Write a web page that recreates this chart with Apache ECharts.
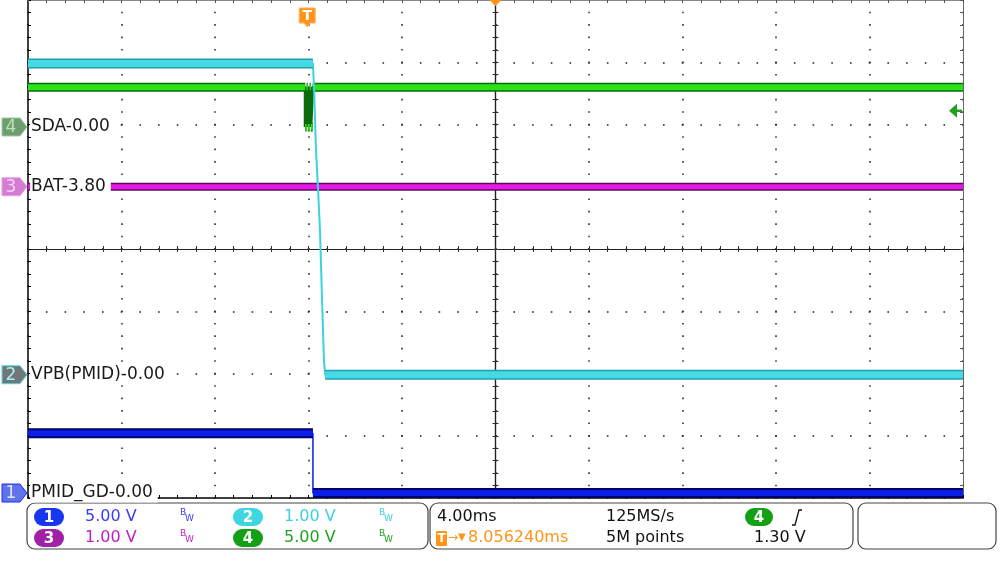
<!DOCTYPE html>
<html><head><meta charset="utf-8">
<script src="https://cdn.jsdelivr.net/npm/echarts@6/dist/echarts.min.js"></script>
<style>html,body{margin:0;padding:0;background:#fff}#c{width:1000px;height:579px}</style>
</head><body><div id="c"></div>
<script>
// ---- horizontal: ms from left edge of screen, 4 ms/div, 10 div ----
const timeDivMs = 4;
const timeSpanMs = 40;
const triggerMs = 11.944;          // trigger point (8.056240 ms before centre)
const vertDivs = 8;

// ---- channel settings (1..4) ----
const channelLabels = ['PMID_GD-0.00', 'VPB(PMID)-0.00', 'BAT-3.80', 'SDA-0.00'];
const channelScales = [5, 1, 1, 5];          // V/div
const channelOffsets = [0, 0, 3.8, 0];       // V
const channelPositions = [0.08, 1.98, 5.0, 5.96]; // div from bottom
const triggerLevelV = 1.30;                  // ch4

// ---- traces ----
const ch1Times = [0, 12.19, 12.19, 40];
const ch1Volts = [4.8, 4.8, 0, 0];
const ch2Times = [0, 12.19, 12.24, 12.32, 12.41, 12.49, 12.58, 12.66, 12.71, 40];
const ch2Volts = [5.0, 5.0, 4.58, 3.61, 2.97, 2.33, 1.20, 0.24, 0, 0];
const ch3Times = [0, 40];
const ch3Volts = [3.8, 3.8];
const ch4Times = [0, 11.86, 11.86, 11.92, 11.92, 11.97, 11.97, 12.05, 12.05, 12.10, 12.10, 12.18, 12.18, 40];
const ch4Volts = [3.2, 3.2, 0, 0, 3.2, 3.2, 0, 0, 3.2, 3.2, 0, 0, 3.2, 3.2];

// ---- status panel text ----
const chScaleTexts = ['5.00 V', '1.00 V', '1.00 V', '5.00 V'];
const timebaseText = '4.00ms';
const sampleRateText = '125MS/s';
const memoryText = '5M points';
const trigDelayText = '8.056240ms';
const trigLevelText = '1.30 V';

const traceStyles = [
  {outer: '#00006e', inner: '#0a1ee6', thin: '#0a1ee6', ow: 10, iw: 6, tw: 1.5},
  {outer: '#1f9fae', inner: '#46dae6', thin: '#3cd2e0', ow: 10, iw: 7, tw: 2},
  {outer: '#5c0a5c', inner: '#e61ae6', thin: '#e61ae6', ow: 8, iw: 5, tw: 1.5},
  {outer: '#0b6a0b', inner: '#2ee21a', thin: '#0b6a0b', ow: 9, iw: 6, tw: 3}
];
const allTimes = [ch1Times, ch2Times, ch3Times, ch4Times];
const allVolts = [ch1Volts, ch2Volts, ch3Volts, ch4Volts];

function toDiv(ch, v) { return channelPositions[ch] + (v - channelOffsets[ch]) / channelScales[ch]; }

const series = [];
const drawOrder = [0, 2, 3, 1];
drawOrder.forEach(ch => {
  const t = allTimes[ch], v = allVolts[ch], st = traceStyles[ch];
  const pts = t.map((x, i) => [x, toDiv(ch, v[i])]);
  series.push({type: 'line', data: pts, symbol: 'none', silent: true, animation: false,
    lineStyle: {color: st.thin, width: st.tw}, z: 2});
  // noise band on the flat parts
  for (let i = 0; i < pts.length - 1; i++) {
    if (v[i] === v[i + 1] && t[i + 1] > t[i]) {
      const seg = [pts[i], pts[i + 1]];
      series.push({type: 'line', data: seg, symbol: 'none', silent: true, animation: false,
        lineStyle: {color: st.outer, width: st.ow, cap: 'butt'}, z: 2});
      series.push({type: 'line', data: seg, symbol: 'none', silent: true, animation: false,
        lineStyle: {color: st.inner, width: st.iw, cap: 'butt'}, z: 2});
    }
  }
});

const dotX = {type: [1.6, 10.85], dashOffset: 0.8, color: '#222', width: 1.5};
const dotY = {type: [1.6, 17.1], dashOffset: 0.8, color: '#222', width: 1.5};
const hide = {show: false};
function xAx(extra) {
  return Object.assign({type: 'value', min: 0, max: timeSpanMs, interval: timeDivMs,
    axisLabel: hide, splitLine: hide}, extra);
}
function yAx(extra) {
  return Object.assign({type: 'value', min: 0, max: vertDivs, interval: 1,
    axisLabel: hide, splitLine: hide}, extra);
}
const tick = (inside, color) => ({show: true, inside: inside, length: 3, lineStyle: {color: color, width: 1}});
const minor = (color) => ({show: true, splitNumber: 5, length: 3, lineStyle: {color: color, width: 1}});

const chart = echarts.init(document.getElementById('c'), null, {renderer: 'canvas'});
chart.setOption({
  animation: false,
  backgroundColor: '#fff',
  grid: {left: 28, top: 0, width: 935, height: 498, containLabel: false},
  xAxis: [
    xAx({position: 'bottom', axisLine: {onZero: false, lineStyle: {color: '#000', width: 1.5}},
      axisTick: tick(true, '#000'), minorTick: minor('#000'), splitLine: {show: true, lineStyle: dotX}}),
    xAx({position: 'top', axisLine: {onZero: false, lineStyle: {color: '#888', width: 1}},
      axisTick: tick(true, '#555'), minorTick: minor('#555')}),
    xAx({position: 'bottom', offset: -249, axisLine: {onZero: false, lineStyle: {color: '#222', width: 1.2}},
      axisTick: tick(true, '#333'), minorTick: minor('#333')}),
    xAx({position: 'bottom', offset: -249, axisLine: {onZero: false, lineStyle: {color: '#222', width: 1.2}},
      axisTick: tick(false, '#333'), minorTick: minor('#333')})
  ],
  yAxis: [
    yAx({position: 'left', axisLine: {show: true, onZero: false, lineStyle: {color: '#000', width: 1.5}},
      axisTick: tick(true, '#000'), minorTick: minor('#000'), splitLine: {show: true, lineStyle: dotY}}),
    yAx({position: 'right', axisLine: {show: true, onZero: false, lineStyle: {color: '#666', width: 1}},
      axisTick: tick(true, '#555'), minorTick: minor('#555')}),
    yAx({position: 'left', offset: -467.5, axisLine: {show: true, onZero: false, lineStyle: {color: '#222', width: 1.2}},
      axisTick: tick(true, '#333'), minorTick: minor('#333')}),
    yAx({position: 'left', offset: -467.5, axisLine: {show: true, onZero: false, lineStyle: {color: '#222', width: 1.2}},
      axisTick: tick(false, '#333'), minorTick: minor('#333')})
  ],
  series: series
});

// ---- overlays positioned through the chart's own scales ----
const px = (t, d) => chart.convertToPixel({gridIndex: 0}, [t, d]);
const FONT = '"DejaVu Sans", sans-serif';
const g = [];
const markerStyles = [
  {fill: '#5f73ea', stroke: '#1a32ff', text: '#dfe4ff'},
  {fill: '#6f7777', stroke: '#52d6e0', text: '#a8f0f4'},
  {fill: '#d47cd4', stroke: '#e6a0e6', text: '#f6d2f6'},
  {fill: '#6f9d6f', stroke: '#98cf98', text: '#b9e4b9'}
];
for (let ch = 0; ch < 4; ch++) {
  const y = px(0, channelPositions[ch])[1];
  const ms = markerStyles[ch];
  g.push({type: 'polygon', z: 100, shape: {points: [[2, y - 9], [20, y - 9], [27, y], [20, y + 9], [2, y + 9]]},
    style: {fill: ms.fill, stroke: ms.stroke, lineWidth: 1}});
  g.push({type: 'text', z: 101, x: 11, y: y + 1, style: {text: String(ch + 1), fill: ms.text,
    font: '17px ' + FONT, align: 'center', verticalAlign: 'middle'}});
  g.push({type: 'text', z: 101, x: 30, y: y, style: {text: channelLabels[ch], fill: '#1a1a1a',
    font: '17px ' + FONT, align: 'left', verticalAlign: 'middle', backgroundColor: '#fff', padding: [1, 5, 1, 1]}});
}
// trigger position marker
const tp = px(triggerMs, vertDivs);
g.push({type: 'polygon', z: 100, shape: {points: [[tp[0] - 8, 8], [tp[0] + 8, 8], [tp[0] + 8, 23], [tp[0] + 3, 23], [tp[0], 27], [tp[0] - 3, 23], [tp[0] - 8, 23]]},
  style: {fill: '#ff9418', stroke: '#ffb060', lineWidth: 1}});
g.push({type: 'text', z: 101, x: tp[0], y: 16, style: {text: 'T', fill: '#fff', font: 'bold 14px ' + FONT, align: 'center', verticalAlign: 'middle'}});
// delay marker (centre)
const cp = px(timeSpanMs / 2, vertDivs);
g.push({type: 'polygon', z: 100, shape: {points: [[cp[0] - 6, 0], [cp[0] + 6, 0], [cp[0], 6]]}, style: {fill: '#ff9418'}});
// trigger level arrow (ch4)
const tl = px(timeSpanMs, toDiv(3, triggerLevelV));
g.push({type: 'polygon', z: 100, shape: {points: [[tl[0] - 14, tl[1]], [tl[0] - 6, tl[1] - 7], [tl[0] - 6, tl[1] + 7]]}, style: {fill: '#22a022'}});
g.push({type: 'line', z: 100, shape: {x1: tl[0] - 7, y1: tl[1], x2: tl[0] - 1, y2: tl[1]}, style: {stroke: '#22a022', lineWidth: 2.5}});

// ---- status panel ----
const boxStyle = {fill: 'none', stroke: '#444', lineWidth: 1.2};
g.push({type: 'rect', z: 100, shape: {x: 27, y: 503, width: 401, height: 46, r: 8}, style: boxStyle});
g.push({type: 'rect', z: 100, shape: {x: 430, y: 503, width: 423, height: 46, r: 8}, style: boxStyle});
g.push({type: 'rect', z: 100, shape: {x: 858, y: 503, width: 138, height: 46, r: 8}, style: boxStyle});
const pillFill = ['#1736f0', '#3fd6e0', '#a020a8', '#14a014'];
const textFill = ['#3a3af8', '#3fd0e0', '#c020c0', '#22a022'];
const slotX = [34, 233, 34, 233];
const slotY = [517, 517, 538, 538];
for (let ch = 0; ch < 4; ch++) {
  const x0 = slotX[ch], yc = slotY[ch];
  g.push({type: 'rect', z: 100, shape: {x: x0, y: yc - 9, width: 30, height: 18, r: 9}, style: {fill: pillFill[ch]}});
  g.push({type: 'text', z: 101, x: x0 + 15, y: yc + 1, style: {text: String(ch + 1), fill: '#fff', font: 'bold 15px ' + FONT, align: 'center', verticalAlign: 'middle'}});
  g.push({type: 'text', z: 101, x: x0 + 51, y: yc, style: {text: chScaleTexts[ch], fill: textFill[ch], font: '16px ' + FONT, align: 'left', verticalAlign: 'middle'}});
  g.push({type: 'text', z: 101, x: x0 + 146, y: yc - 4, style: {text: 'B', fill: textFill[ch], font: '9px ' + FONT, align: 'left', verticalAlign: 'middle'}});
  g.push({type: 'text', z: 101, x: x0 + 151, y: yc + 2, style: {text: 'W', fill: textFill[ch], font: '9px ' + FONT, align: 'left', verticalAlign: 'middle'}});
}
const T = (x, y, s, fill, size) => g.push({type: 'text', z: 101, x: x, y: y, style: {text: s, fill: fill, font: (size || 16) + 'px ' + FONT, align: 'left', verticalAlign: 'middle'}});
T(437, 517, timebaseText, '#111');
T(606, 517, sampleRateText, '#111');
T(606, 538, memoryText, '#111');
T(754, 538, trigLevelText, '#111');
g.push({type: 'rect', z: 100, shape: {x: 745, y: 508, width: 28, height: 18, r: 9}, style: {fill: '#14a014'}});
g.push({type: 'text', z: 101, x: 759, y: 518, style: {text: '4', fill: '#fff', font: 'bold 15px ' + FONT, align: 'center', verticalAlign: 'middle'}});
g.push({type: 'polyline', z: 101, shape: {points: [[792, 525], [795, 525], [799, 510], [802, 510]]}, style: {stroke: '#111', lineWidth: 1.3, fill: 'none'}});
g.push({type: 'rect', z: 100, shape: {x: 436, y: 531, width: 11, height: 15, r: 1}, style: {fill: '#ff9418'}});
g.push({type: 'text', z: 101, x: 441.5, y: 539, style: {text: 'T', fill: '#fff', font: 'bold 12px ' + FONT, align: 'center', verticalAlign: 'middle'}});
T(448, 538, '→', '#ff9418', 12);
T(458, 537, '▼', '#ff9418', 10);
T(468, 538, trigDelayText, '#ff9418');

chart.setOption({graphic: {elements: g}});
</script></body></html>
